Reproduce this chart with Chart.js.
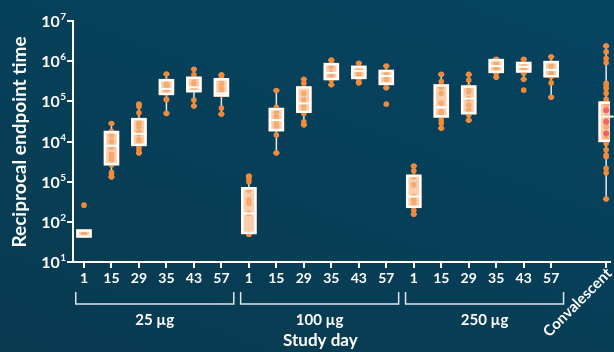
<!DOCTYPE html>
<html>
<head>
<meta charset="utf-8">
<script src="https://cdn.jsdelivr.net/npm/chart.js@4"></script>
<style>
  html, body { margin: 0; padding: 0; }
  body {
    width: 614px; height: 352px; overflow: hidden;
    background: linear-gradient(200deg, #064460 0%, #073f58 50%, #083a50 100%);
  }
  canvas { display: block; }
</style>
</head>
<body>
<canvas id="titerChart" width="614" height="352"></canvas>
<script>
// --- DATA ---
const dayLabels = ["1", "15", "29", "35", "43", "57"];
const groupLabels = ["25 µg", "100 µg", "250 µg"];
const lastLabel = "Convalescent";
const yTickValues = [10, 100, 1e3, 1e4, 1e5, 1e6, 1e7];
const yTickExponents = ["1", "2", "5", "4", "5", "6", "7"]; // as printed on the original

// box stats, one entry per box: 3 groups x 6 days, then convalescent
const boxMin    = [41, 1290, 5200, 50000, 76000, 48000,   50, 5200, 26000, 257000, 288000, 219000,   155, 21400, 34000, 398000, 355000, 126000,   370];
const boxQ1     = [41, 2570, 7800, 145000, 170000, 132000,   50, 18200, 52000, 339000, 363000, 257000,   224, 40000, 48000, 513000, 525000, 398000,   9800];
const boxMedian = [51, 7800, 15500, 204000, 224000, 158000,   162, 34000, 89000, 513000, 575000, 427000,   427, 71000, 117000, 760000, 724000, 603000,   41700];
const boxQ3     = [64, 18200, 38000, 355000, 407000, 372000,   720, 68000, 234000, 890000, 760000, 603000,   1480, 263000, 245000, 1120000, 955000, 1000000,   98000];
const boxMax    = [64, 28000, 85000, 480000, 630000, 457000,   1380, 186000, 355000, 1070000, 890000, 760000,   2450, 468000, 468000, 1170000, 1120000, 1290000,   2400000];

const points25 = [
  [50, 50, 50, 50, 50, 260],
  [28000, 18000, 14500, 10200, 7200, 4800, 4000, 3500, 2600, 1700, 1500, 1300],
  [85000, 74000, 52000, 34000, 28000, 23000, 17500, 15500, 11000, 9000, 7400, 6200, 5200],
  [480000, 325000, 280000, 240000, 175000, 160000, 112000, 110000, 50000],
  [630000, 457000, 372000, 282000, 229000, 200000, 107000, 76000],
  [457000, 407000, 339000, 257000, 209000, 166000, 145000, 68000, 48000]
];
const points100 = [
  [1380, 1200, 1000, 620, 350, 290, 162, 50, 50, 50, 50, 50, 50],
  [186000, 71000, 56000, 42000, 34000, 26000, 21000, 14500, 5200],
  [355000, 282000, 158000, 107000, 81000, 60000, 50000, 31000, 26000],
  [1070000, 870000, 724000, 513000, 427000, 339000, 257000],
  [890000, 630000, 575000, 479000, 407000, 339000, 288000],
  [760000, 537000, 447000, 355000, 219000, 85000]
];
const points250 = [
  [2450, 1860, 1320, 830, 427, 347, 263, 195, 155],
  [468000, 309000, 229000, 158000, 89000, 55000, 50000, 34000, 28000, 21400],
  [468000, 339000, 229000, 174000, 117000, 81000, 60000, 46000, 34000],
  [1120000, 980000, 850000, 724000, 631000, 501000, 398000],
  [1120000, 890000, 724000, 631000, 501000, 355000, 190000],
  [1290000, 912000, 760000, 501000, 407000, 288000, 126000]
];
const pointsConv = [2400000, 1700000, 1170000, 912000, 282000, 240000, 209000, 158000, 112000, 81000,
  42000, 23400, 16000, 12000, 8900, 6200, 4600, 4200, 2140, 1660, 370];
const pointsConvRed = [60000, 31000, 15800];

// --- POSITIONS ON THE X SCALE ---
const convIndex = 19;
const boxIndex = [];
for (let g = 0; g < 3; g++) for (let d = 0; d < 6; d++) boxIndex.push(g * 6 + d);
boxIndex.push(convIndex);
const xTickIndex = boxIndex.slice();

function xLabel(v) {
  if (v < 18) return dayLabels[v % 6];
  return "";
}

// --- BUILD DATASETS ---
const dotData = [];
[points25, points100, points250].forEach((grp, g) => {
  grp.forEach((vals, d) => vals.forEach(v => dotData.push({ x: g * 6 + d, y: v })));
});
pointsConv.forEach(v => dotData.push({ x: convIndex, y: v }));
const redData = pointsConvRed.map(v => ({ x: convIndex, y: v }));
const boxData = boxIndex.map((x, i) => ({ x: x, y: [boxQ1[i], boxQ3[i]] }));

const FONT = "Lato, 'Open Sans', sans-serif";
const ORANGE = "#f28a3a";

// --- EXTRA DRAWING: whiskers, medians, labels ---
const boxPlugin = {
  id: "boxExtras",
  beforeDatasetsDraw(chart) {
    const xs = chart.scales.x, ys = chart.scales.y, ctx = chart.ctx;
    ctx.save();
    ctx.strokeStyle = "#e3e9ec";
    ctx.lineWidth = 1.5;
    boxIndex.forEach((xi, i) => {
      const x = xs.getPixelForValue(xi);
      const segs = [[boxQ3[i], boxMax[i]], [boxQ1[i], boxMin[i]]];
      segs.forEach(([a, b]) => {
        if (a === b) return;
        const ya = ys.getPixelForValue(a), yb = ys.getPixelForValue(b);
        ctx.beginPath();
        ctx.moveTo(x, ya); ctx.lineTo(x, yb);
        ctx.moveTo(x - 3, yb); ctx.lineTo(x + 3, yb);
        ctx.stroke();
      });
    });
    ctx.restore();
  },
  afterDatasetsDraw(chart) {
    const xs = chart.scales.x, ys = chart.scales.y, ctx = chart.ctx;
    ctx.save();
    ctx.strokeStyle = "#ffffff";
    ctx.lineWidth = 2;
    boxIndex.forEach((xi, i) => {
      if (i === 0) return; // flat first box shows only its frame
      const x = xs.getPixelForValue(xi);
      const y = ys.getPixelForValue(boxMedian[i]);
      ctx.beginPath();
      ctx.moveTo(x - 7.5, y); ctx.lineTo(x + 7.5, y);
      ctx.stroke();
    });
    ctx.restore();
  },
  afterDraw(chart) {
    const xs = chart.scales.x, ys = chart.scales.y, ctx = chart.ctx;
    ctx.save();
    ctx.fillStyle = "#ffffff";

    // y tick labels: 10 with superscript
    yTickValues.forEach((v, i) => {
      const y = ys.getPixelForValue(v);
      ctx.font = "bold 10px " + FONT;
      const ew = ctx.measureText(yTickExponents[i]).width;
      const right = 66;
      ctx.textAlign = "left";
      ctx.textBaseline = "alphabetic";
      ctx.fillText(yTickExponents[i], right - ew, y - 1);
      ctx.font = "bold 16px " + FONT;
      ctx.textAlign = "right";
      ctx.fillText("10", right - ew - 0.5, y + 6);
    });

    // y title
    ctx.save();
    ctx.translate(20, 142);
    ctx.rotate(-Math.PI / 2);
    ctx.font = "bold 19px " + FONT;
    ctx.textAlign = "center";
    ctx.textBaseline = "middle";
    ctx.fillText("Reciprocal endpoint time", 0, 0);
    ctx.restore();

    // group brackets and labels
    ctx.strokeStyle = "#dfe5e8";
    ctx.lineWidth = 1.5;
    groupLabels.forEach((lab, g) => {
      const x0 = xs.getPixelForValue(g * 6 - 0.3);
      const x1 = xs.getPixelForValue(g * 6 + 5.45);
      ctx.beginPath();
      ctx.moveTo(x0, 292); ctx.lineTo(x0, 304); ctx.lineTo(x1, 304); ctx.lineTo(x1, 292);
      ctx.stroke();
      ctx.font = "bold 15px " + FONT;
      ctx.textAlign = "center";
      ctx.textBaseline = "middle";
      ctx.fillText(lab, (x0 + x1) / 2, 320);
    });

    // x title
    ctx.font = "bold 17px " + FONT;
    ctx.textAlign = "center";
    ctx.textBaseline = "middle";
    ctx.fillText("Study day", xs.getPixelForValue(8.6), 341);

    // rotated convalescent label
    ctx.save();
    ctx.translate(xs.getPixelForValue(convIndex) + 3, 271);
    ctx.rotate(-Math.PI / 4);
    ctx.font = "bold 15px " + FONT;
    ctx.textAlign = "right";
    ctx.textBaseline = "middle";
    ctx.fillText(lastLabel, 0, 0);
    ctx.restore();

    ctx.restore();
  }
};

new Chart(document.getElementById("titerChart"), {
  type: "bar",
  data: {
    datasets: [
      {
        // opaque box body, below the dots
        type: "bar",
        data: boxData,
        backgroundColor: "#f4c29c",
        borderWidth: 0,
        barThickness: 15,
        grouped: false,
        order: 4
      },
      {
        type: "scatter",
        data: dotData,
        backgroundColor: ORANGE,
        borderWidth: 0,
        pointRadius: 2.8,
        order: 3
      },
      {
        type: "scatter",
        data: redData,
        backgroundColor: "#e8202a",
        borderWidth: 0,
        pointRadius: 3,
        order: 2
      },
      {
        // light veil and white frame over the dots
        type: "bar",
        data: boxData,
        backgroundColor: "rgba(255,228,205,0.35)",
        borderColor: "#ffffff",
        borderWidth: 2,
        borderSkipped: false,
        barThickness: 15,
        grouped: false,
        order: 1
      }
    ]
  },
  options: {
    responsive: false,
    animation: false,
    devicePixelRatio: 1,
    layout: { padding: { top: 21, right: 0, bottom: 0, left: 0 } },
    plugins: { legend: { display: false }, tooltip: { enabled: false } },
    scales: {
      x: {
        type: "linear",
        offset: false,
        min: -0.4,
        max: 19.14,
        grid: { display: true, offset: false, drawOnChartArea: false, drawTicks: true, tickLength: 6, color: "#ffffff", lineWidth: 2 },
        border: { display: true, color: "#ffffff", width: 2 },
        ticks: {
          color: "#ffffff",
          font: { family: FONT, size: 14, weight: "bold" },
          padding: 2,
          maxRotation: 0,
          autoSkip: false,
          callback: v => xLabel(v)
        },
        afterBuildTicks: s => { s.ticks = xTickIndex.map(v => ({ value: v })); },
        afterFit: s => { s.height = 90; }
      },
      y: {
        type: "logarithmic",
        min: 10,
        max: 1e7,
        grid: { display: true, drawOnChartArea: false, drawTicks: true, tickLength: 6, color: "#ffffff", lineWidth: 2 },
        border: { display: true, color: "#ffffff", width: 2 },
        ticks: { display: true, callback: () => "", font: { size: 1 } },
        afterBuildTicks: s => { s.ticks = yTickValues.map(v => ({ value: v })); },
        afterFit: s => { s.width = 73; }
      }
    }
  },
  plugins: [boxPlugin]
});
</script>
</body>
</html>
